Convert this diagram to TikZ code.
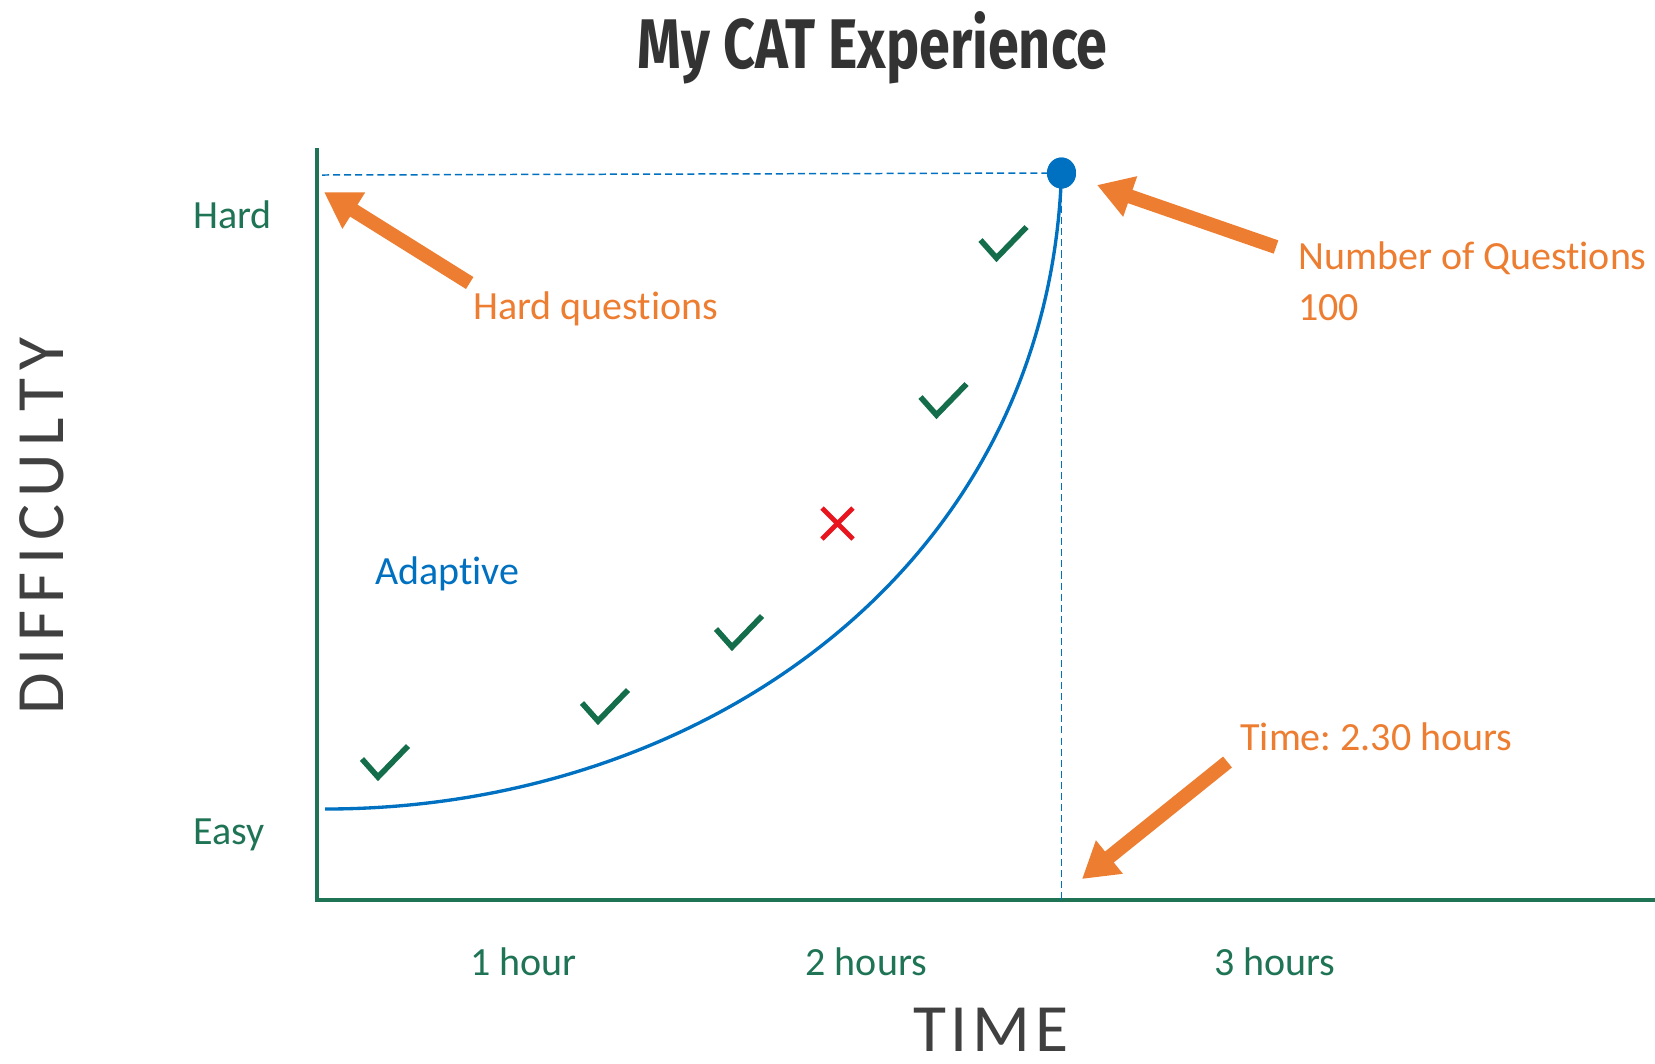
\documentclass[tikz,border=0pt]{standalone}
\usepackage{graphicx}
\usepackage{fontspec}
\setmainfont{Carlito}[Ligatures=NoCommon]
\newfontfamily\titlefont{Fira Sans}
\usetikzlibrary{arrows.meta,shapes.geometric}
\definecolor{axgreen}{RGB}{30,116,84}
\definecolor{ckgreen}{RGB}{20,110,75}
\definecolor{orng}{RGB}{237,125,49}
\definecolor{cblue}{RGB}{0,112,192}
\definecolor{dgray}{RGB}{51,51,51}
\definecolor{lgray}{RGB}{64,64,64}
\definecolor{xred}{RGB}{232,20,30}
\frenchspacing
\tikzset{
 lbl/.style={inner sep=0pt, anchor=base west, font=\fontsize{22.76}{27}\selectfont},
 glbl/.style={lbl, text=axgreen},
 olbl/.style={lbl, text=orng},
 blbl/.style={lbl, text=cblue},
 axisline/.style={draw=axgreen, line width=2.4pt},
 guide/.style={draw=cblue, line width=0.85pt, dash pattern=on 4pt off 2.3pt},
 callout/.style={draw=orng, line width=8pt, -{Triangle[length=20pt,width=23pt]}},
 okmark/.style={draw=ckgreen, line width=3.2pt},
 badmark/.style={draw=xred, line width=2.7pt},
 bigcap/.style={inner sep=0pt, text=lgray, font=\fontsize{38.5}{40}\selectfont},
 dotstyle/.style={ellipse, fill=cblue, inner sep=0pt, minimum width=0.58cm, minimum height=0.62cm},
 chk/.pic={\draw[okmark] (-16,-18) -- (0,0) -- (30,-31);}
}
\begin{document}
\begin{tikzpicture}[x=0.02cm,y=-0.02cm]
\useasboundingbox (0,0) rectangle (1655,1063);

% title
\node[anchor=base west, inner sep=0pt, text=dgray] (title) at (637,68)
  {\resizebox{9.4cm}{1.14cm}{\titlefont\bfseries My CAT Experience}};

% axes
\coordinate (O) at (317,900);
\coordinate (ytop) at (317,148);
\coordinate (xend) at (1655,900);
\draw[axisline] (ytop) -- (O) -- (xend);

% curve and dot
\coordinate (cstart) at (325,809);
\node[dotstyle] (dot) at (1061.5,173) {};
\coordinate (hstart) at (322,175);
\draw[guide] (hstart) -- (dot.center);
\draw[guide] (dot.center) -- (dot.center |- O);
\draw[cblue, line width=1.9pt] (cstart) .. controls (700,809) and (1048,570) .. (dot.center);
\node[dotstyle] at (dot.center) {};

% marks
\pic at (378,777) {chk};
\pic at (598,721) {chk};
\pic at (732,647) {chk};
\pic at (936.5,415) {chk};
\pic at (996.5,258) {chk};
\draw[badmark] (822,508) -- (853,539) (853,508) -- (822,539);

% labels
\node[glbl] (hard) at (193,228.3) {Hard};
\node[glbl] (easy) at (193,844.7) {Easy};
\node[glbl] (h1) at (469.7,975.6) {1 hour};
\node[glbl] (h2) at (805.3,975.6) {2 hours};
\node[glbl] (h3) at (1213.8,975.6) {3 hours};
\node[blbl] (adaptive) at (374.7,584) {Adapt\kern0pt ive};
\node[olbl] (hardq) at (473,319) {Hard questions};
\node[olbl] (numq) at (1298,269.5) {Number of Quest\kern0pt ions};
\node[olbl] (num100) at (1298,320) {100};
\node[olbl] (timel) at (1240,750.8) {Time: 2.30 hours};

\node[bigcap, anchor=base, rotate=90] (ylab) at (63.3,526.2)
  {\makebox[7.54cm][s]{D\hfill I\hfill F\hfill F\hfill I\hfill C\hfill U\hfill L\hfill T\hfill Y}};
\node[bigcap, anchor=base] (xlab) at (990.6,1051)
  {\makebox[3.1cm][s]{T\hfill I\hfill M\hfill E}};

% callout arrows
\coordinate (a1s) at (469.7,283);
\coordinate (a1e) at (324,192);
\coordinate (a2s) at (1276,247);
\coordinate (a2e) at (1097,185);
\coordinate (a3s) at (1227.5,762);
\coordinate (a3e) at (1082,879);
\draw[callout] (a1s) -- (a1e);
\draw[callout] (a2s) -- (a2e);
\draw[callout] (a3s) -- (a3e);
\end{tikzpicture}
\end{document}
